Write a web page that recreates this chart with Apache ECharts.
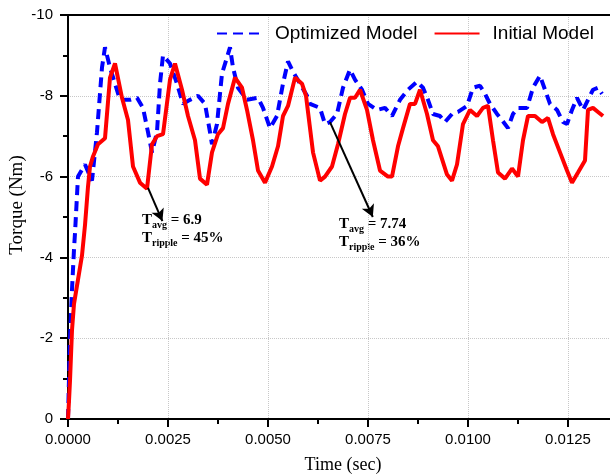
<!DOCTYPE html>
<html>
<head>
<meta charset="utf-8">
<script src="https://cdn.jsdelivr.net/npm/echarts@6/dist/echarts.min.js"></script>
<style>
  html, body { margin: 0; padding: 0; background: #fff; overflow: hidden; width: 610px; height: 476px; }
  /* chart is wider than the window: the plot runs off the right edge, as in the original */
  #main { width: 670px; height: 476px; }
</style>
</head>
<body>
<div id="main"></div>
<script>
// time (sec) and torque (Nm)
var timeOpt = [0, 0.000025, 0.00005, 0.0001, 0.00015, 0.000175, 0.00025, 0.000425, 0.0006, 0.000725,
  0.00085, 0.000925, 0.00105, 0.001175, 0.0013, 0.00155, 0.001725, 0.001875, 0.002, 0.0021,
  0.002225, 0.0023, 0.002375, 0.00255, 0.002725, 0.002875, 0.00305, 0.00325, 0.003425, 0.00355,
  0.0036, 0.003725, 0.00385, 0.003975, 0.00405, 0.004125, 0.00425, 0.004475, 0.00475, 0.004875,
  0.00505, 0.005225, 0.005375, 0.0055, 0.005625, 0.0058, 0.005975, 0.00605, 0.0063, 0.006425,
  0.00655, 0.006725, 0.006875, 0.00705, 0.007175, 0.00735, 0.0075, 0.007725, 0.007925, 0.0081,
  0.0083, 0.0085, 0.008725, 0.008875, 0.009, 0.009125, 0.0093, 0.009425, 0.0096, 0.00975,
  0.009975, 0.010125, 0.0103, 0.010425, 0.01055, 0.010725, 0.01085, 0.011, 0.011125, 0.01125,
  0.011475, 0.011625, 0.0118, 0.011925, 0.01205, 0.012225, 0.012375, 0.012475, 0.0126, 0.012725,
  0.012875, 0.013, 0.013125, 0.01325, 0.01335];
var torqueOpt = [0, -1.0, -2.0, -3.2, -4.2, -4.6, -6.0, -6.3, -5.9, -7.1,
  -8.7, -9.2, -8.7, -8.3, -7.9, -7.9, -7.95, -7.7, -7.1, -6.6,
  -7.1, -8.3, -9.0, -8.8, -8.3, -7.8, -7.9, -8.0, -7.8, -7.1,
  -6.8, -7.3, -8.55, -8.95, -9.2, -8.7, -8.2, -7.9, -7.95, -7.7,
  -7.2, -7.5, -8.3, -8.85, -8.6, -8.3, -8.0, -7.8, -7.7, -7.3,
  -7.35, -7.55, -8.2, -8.65, -8.4, -8.15, -7.8, -7.65, -7.7, -7.5,
  -7.9, -8.15, -8.35, -8.2, -7.9, -7.55, -7.5, -7.35, -7.55, -7.6,
  -7.75, -8.2, -8.25, -8.05, -7.8, -7.55, -7.4, -7.2, -7.55, -7.7,
  -7.7, -8.2, -8.5, -8.15, -7.8, -7.65, -7.35, -7.3, -7.65, -7.95,
  -7.65, -7.9, -8.15, -8.2, -8.05];

var timeInit = [0, 0.000025, 0.00005, 0.0001, 0.00015, 0.00025, 0.00035, 0.000425, 0.0005, 0.00055,
  0.000625, 0.00075, 0.000925, 0.00105, 0.001175, 0.00135, 0.0015, 0.001625, 0.0018, 0.001975,
  0.0021, 0.002225, 0.002375, 0.00255, 0.002675, 0.00285, 0.003, 0.003175, 0.0033, 0.003475,
  0.0036, 0.00375, 0.003875, 0.004, 0.004175, 0.00435, 0.004475, 0.004625, 0.00475, 0.004925,
  0.0051, 0.00525, 0.005375, 0.0055, 0.005675, 0.00585, 0.00595, 0.006125, 0.0063, 0.006425,
  0.0066, 0.00675, 0.006925, 0.00705, 0.007175, 0.0073, 0.007475, 0.007625, 0.0078, 0.008,
  0.0081, 0.00825, 0.008375, 0.00855, 0.008675, 0.0088, 0.008975, 0.009125, 0.00925, 0.009475,
  0.0096, 0.009725, 0.009875, 0.01005, 0.010225, 0.010375, 0.0105, 0.010625, 0.01075, 0.010925,
  0.0111, 0.01125, 0.011375, 0.0115, 0.011675, 0.01185, 0.012, 0.012125, 0.0123, 0.012475,
  0.0126, 0.01275, 0.012925, 0.013, 0.013125, 0.01325, 0.013375];
var torqueInit = [0, -0.45, -0.95, -2.2, -2.85, -3.45, -4.05, -4.8, -5.75, -6.25,
  -6.5, -6.8, -6.95, -8.45, -8.8, -7.95, -7.4, -6.25, -5.85, -5.7,
  -6.8, -7.0, -7.05, -8.4, -8.8, -8.15, -7.5, -6.9, -5.95, -5.8,
  -6.6, -7.05, -7.2, -7.8, -8.45, -8.2, -7.65, -6.9, -6.15, -5.85,
  -6.25, -6.75, -7.5, -7.75, -8.45, -8.3, -8.0, -6.6, -5.9, -6.0,
  -6.25, -6.8, -7.55, -7.95, -7.95, -8.15, -7.65, -6.9, -6.15, -6.0,
  -6.0, -6.75, -7.2, -7.8, -7.8, -8.15, -7.55, -6.9, -6.75, -6.05,
  -5.9, -6.3, -7.3, -7.65, -7.5, -7.7, -7.75, -6.9, -6.1, -5.95,
  -6.2, -6.0, -6.9, -7.5, -7.5, -7.35, -7.45, -7.05, -6.6, -6.15,
  -5.85, -6.1, -6.4, -7.65, -7.7, -7.6, -7.5];

var seriesNames = ['Optimized Model', 'Initial Model'];
var notes = [
  { avg: '6.9', ripple: '45%' },
  { avg: '7.74', ripple: '36%' }
];

function zip(xs, ys) {
  return xs.map(function (x, i) { return [x, ys[i]]; });
}

var chart = echarts.init(document.getElementById('main'));

var sans = 'Liberation Sans';
var serif = 'Liberation Serif';
var noteRich = {
  t: { fontFamily: serif, fontWeight: 'bold', fontSize: 15, lineHeight: 20, color: '#000' },
  s: { fontFamily: serif, fontWeight: 'bold', fontSize: 10, lineHeight: 20, verticalAlign: 'bottom', color: '#000' }
};

function noteText(x, y, sub, val) {
  return {
    type: 'text', left: x, top: y,
    style: { text: '{t|T}{s|' + sub + '}{t| = ' + val + '}', rich: noteRich }
  };
}

var option = {
  backgroundColor: '#fff',
  animation: false,
  grid: { left: 68, right: 2, top: 15, bottom: 57, outerBoundsMode: 'none' },
  legend: {
    data: seriesNames,
    left: 211, top: 19,
    itemWidth: 45, itemHeight: 14, itemGap: 16,
    itemStyle: { opacity: 0 },
    textStyle: { fontFamily: sans, fontSize: 19, color: '#000', padding: [0, 0, 0, 8] }
  },
  xAxis: [{
    type: 'value',
    min: 0, max: 0.015, interval: 0.0025,
    name: 'Time (sec)', nameLocation: 'middle', nameGap: 37,
    // centre the title under the visible part of the plot
    nameTextStyle: { fontFamily: serif, fontSize: 18, color: '#000', padding: [0, 50, 0, 0] },
    axisLine: { lineStyle: { color: '#000', width: 2 } },
    axisTick: { inside: false, length: 8, lineStyle: { width: 2, color: '#000' } },
    minorTick: { show: true, splitNumber: 2, length: 5, lineStyle: { width: 2, color: '#000' } },
    axisLabel: {
      margin: 13, fontFamily: sans, fontSize: 15, color: '#000',
      formatter: function (v) { return v.toFixed(4); }
    },
    splitLine: { show: true, lineStyle: { type: 'dotted', color: '#c8c8c8', width: 1 } }
  }, {
    type: 'value', position: 'top',
    min: 0, max: 0.015,
    axisLine: { show: true, onZero: false, lineStyle: { color: '#000', width: 2 } },
    axisTick: { show: false }, axisLabel: { show: false }, splitLine: { show: false }
  }],
  yAxis: {
    type: 'value',
    min: -10, max: 0, interval: 2, inverse: true,
    name: 'Torque (Nm)', nameLocation: 'middle', nameGap: 41, nameMoveOverlap: false,
    nameTextStyle: { fontFamily: serif, fontSize: 19, color: '#000', padding: [0, 0, 0, 24] },
    axisLine: { show: true, lineStyle: { color: '#000', width: 2 } },
    axisTick: { show: true, length: 8, lineStyle: { width: 2, color: '#000' } },
    minorTick: { show: true, splitNumber: 2, length: 5, lineStyle: { width: 2, color: '#000' } },
    axisLabel: { margin: 15, fontFamily: sans, fontSize: 15, color: '#000' },
    splitLine: { show: true, lineStyle: { type: 'dotted', color: '#c8c8c8', width: 1 } }
  },
  series: [{
    name: seriesNames[0],
    type: 'line',
    data: zip(timeOpt, torqueOpt),
    showSymbol: false, symbol: 'none',
    color: '#0000ff',
    lineStyle: { color: '#0000ff', width: 4, type: [10, 6] }
  }, {
    name: seriesNames[1],
    type: 'line',
    data: zip(timeInit, torqueInit),
    showSymbol: false, symbol: 'none',
    color: '#ff0000',
    lineStyle: { color: '#ff0000', width: 4 },
    markLine: {
      silent: true,
      symbol: ['none', 'arrow'], symbolSize: [10, 12],
      label: { show: false },
      lineStyle: { color: '#000', width: 2, type: 'solid' },
      data: [
        [{ coord: [0.002, -5.72] }, { coord: [0.00236, -4.9] }],
        [{ coord: [0.00655, -7.35] }, { coord: [0.00762, -5.0] }]
      ]
    }
  }],
  graphic: [
    noteText(142, 213, 'avg', notes[0].avg),
    noteText(142, 231, 'ripple', notes[0].ripple),
    noteText(339, 217, 'avg', notes[1].avg),
    noteText(339, 235, 'ripple', notes[1].ripple)
  ]
};

chart.setOption(option);
</script>
</body>
</html>
